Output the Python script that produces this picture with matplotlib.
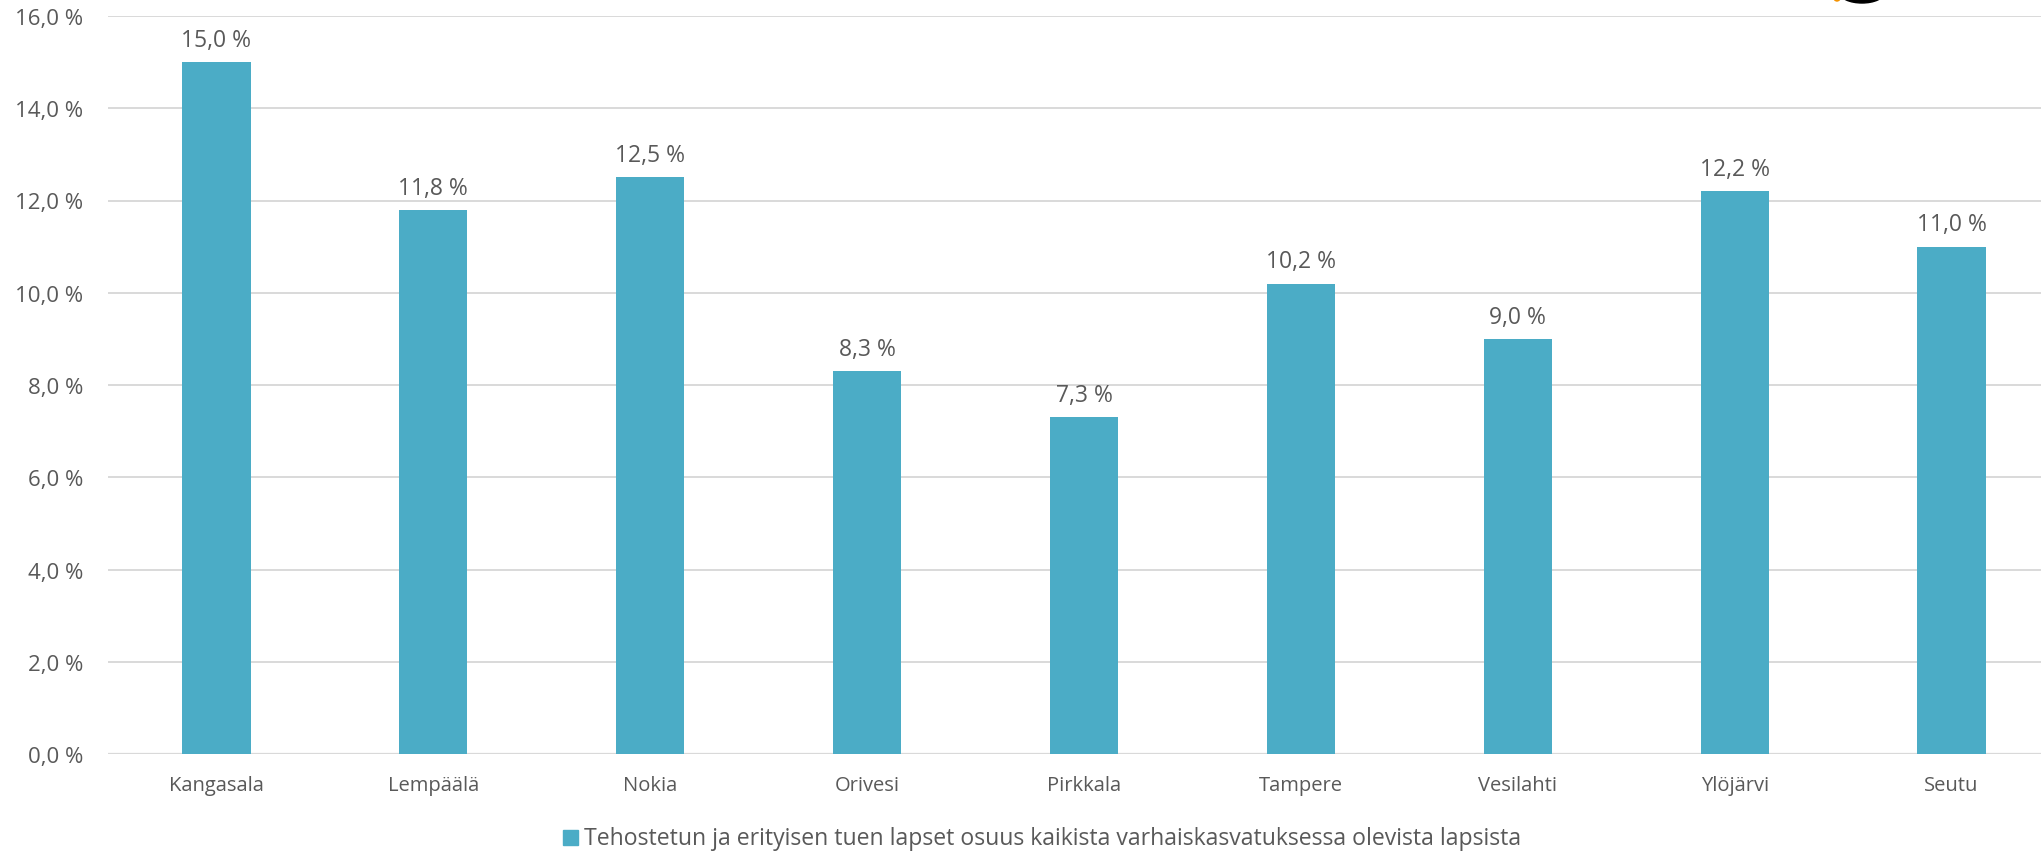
import matplotlib
matplotlib.use("Agg")
import matplotlib.pyplot as plt
from matplotlib.patches import Rectangle, Ellipse

categories = ["Kangasala", "Lempäälä", "Nokia", "Orivesi", "Pirkkala",
              "Tampere", "Vesilahti", "Ylöjärvi", "Seutu"]
values = [15.0, 11.8, 12.5, 8.3, 7.3, 10.2, 9.0, 12.2, 11.0]
yticks = [0, 2, 4, 6, 8, 10, 12, 14, 16]
series_name = "Tehostetun ja erityisen tuen lapset osuus kaikista varhaiskasvatuksessa olevista lapsista"

BAR = "#4BACC6"
TXT = "#595959"
GRID = "#D9D9D9"

plt.rcParams['font.family'] = ['Open Sans', 'DejaVu Sans']

W, H = 2041, 853
fig = plt.figure(figsize=(W / 100, H / 100), dpi=100)
ax_left, ax_right = 108, 2060
ax_top, ax_bot = 17, 755
ax = fig.add_axes([ax_left / W, 1 - ax_bot / H, (ax_right - ax_left) / W, (ax_bot - ax_top) / H])

x = list(range(len(categories)))
bars = ax.bar(x, values, width=0.315, color=BAR, zorder=3)

ax.set_xlim(-0.5, len(categories) - 0.5)
ax.set_ylim(0, 16)
ax.set_yticks(yticks)
ax.set_yticklabels([f"{v:.1f} %".replace('.', ',') for v in yticks])
ax.set_xticks(x)
ax.set_xticklabels(categories)
ax.grid(axis='y', color=GRID, lw=1.4, zorder=0)
ax.set_axisbelow(True)
for s in ax.spines.values():
    s.set_visible(False)
ax.axhline(0, color=GRID, lw=1.6, zorder=2)
ax.tick_params(axis='both', length=0, colors=TXT)
ax.tick_params(axis='y', pad=18, labelsize=16)
ax.tick_params(axis='x', pad=15, labelsize=14.5)

for xi, v in zip(x, values):
    ax.annotate(f"{v:.1f} %".replace('.', ','), (xi, v), xytext=(0, 16),
                textcoords='offset points', ha='center', va='center',
                color=TXT, fontsize=16.5)

# legend (manual, centered bottom)
fig.patches.append(Rectangle((563 / W, 1 - 846 / H), 15 / W, 15 / H,
                             transform=fig.transFigure, color=BAR))
fig.text(584 / W, 1 - 845 / H, series_name, ha='left', va='baseline',
         color=TXT, fontsize=16.6)

# partial logo at top right
fig.patches.append(Ellipse((1862 / W, 1 + 6 / H), 44 / W, 20 / H,
                           transform=fig.transFigure, color='black'))
fig.patches.append(Ellipse((1837 / W, 1 + 1 / H), 6 / W, 6 / H,
                           transform=fig.transFigure, color='#F39200'))

fig.savefig("out.png", dpi=100)
